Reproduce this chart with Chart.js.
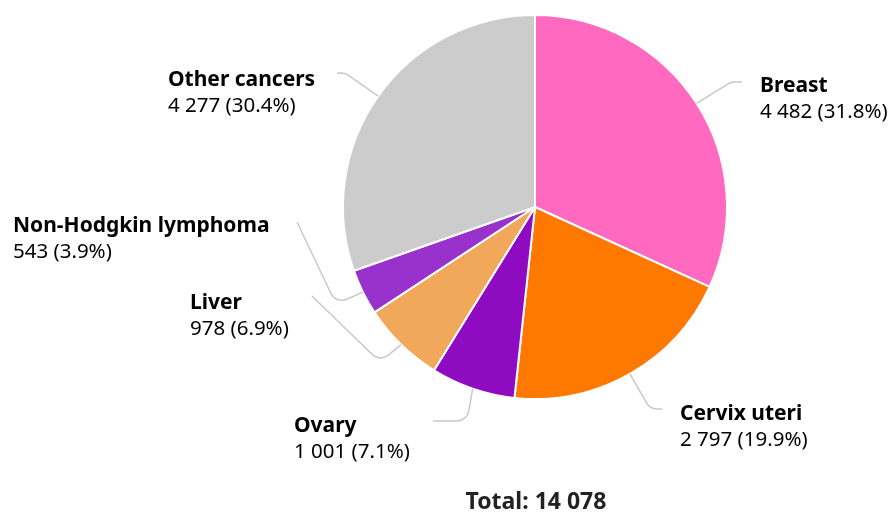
<!DOCTYPE html>
<html>
<head>
<meta charset="utf-8">
<script src="https://cdn.jsdelivr.net/npm/chart.js@4/dist/chart.umd.min.js"></script>
<style>
  html, body { margin: 0; padding: 0; background: #fff; }
  #wrap { width: 894px; height: 513px; }
</style>
</head>
<body>
<div id="wrap"><canvas id="pieChart" width="894" height="513"></canvas></div>
<script>
// data
const categories = ["Breast", "Cervix uteri", "Ovary", "Liver", "Non-Hodgkin lymphoma", "Other cancers"];
const counts = [4482, 2797, 1001, 978, 543, 4277];
const colours = ["#ff69c0", "#ff7900", "#8f0bc1", "#f1a85b", "#9932cc", "#cccccc"];

// label layout (text anchor + leader line bend/end), not data
const labelPos = [
  { x: 760, y: 92, bend: [731, 82], end: [742, 82] },
  { x: 680, y: 420, bend: [650, 409], end: [662, 409] },
  { x: 294, y: 432, bend: [467, 421], end: [433, 421] },
  { x: 190, y: 309, bend: [380, 362], end: [312, 296] },
  { x: 13, y: 232, bend: [336, 304], end: [297, 222] },
  { x: 168, y: 86, bend: [345, 73], end: [337, 73] },
];

const total = counts.reduce((a, b) => a + b, 0);

function fmt(n) {
  return String(n).replace(/\B(?=(\d{3})+(?!\d))/g, " ");
}

const FONT = "'Noto Sans', 'Open Sans', sans-serif";

// draws labels, leader lines and the total
const labelPlugin = {
  id: "pieLabels",
  afterDraw(chart) {
    const ctx = chart.ctx;
    const arcs = chart.getDatasetMeta(0).data;
    ctx.save();
    arcs.forEach((arc, i) => {
      const mid = (arc.startAngle + arc.endAngle) / 2;
      const sx = arc.x + Math.cos(mid) * arc.outerRadius;
      const sy = arc.y + Math.sin(mid) * arc.outerRadius;
      const p = labelPos[i];
      ctx.beginPath();
      ctx.strokeStyle = "#c8c8c8";
      ctx.lineWidth = 1.5;
      ctx.moveTo(sx, sy);
      ctx.arcTo(p.bend[0], p.bend[1], p.end[0], p.end[1], 12);
      ctx.lineTo(p.end[0], p.end[1]);
      ctx.stroke();

      ctx.fillStyle = "#000";
      ctx.textAlign = "left";
      ctx.textBaseline = "alphabetic";
      ctx.font = "bold 21px " + FONT;
      ctx.fillText(categories[i], p.x, p.y);
      ctx.font = "20.5px " + FONT;
      const pct = (counts[i] / total * 100).toFixed(1);
      ctx.fillText(fmt(counts[i]) + " (" + pct + "%)", p.x, p.y + 26);
    });
    ctx.font = "bold 23px " + FONT;
    ctx.textAlign = "center";
    ctx.fillStyle = "#222";
    ctx.fillText("Total: " + fmt(total), 536, 509);
    ctx.restore();
  },
};

const ctx = document.getElementById("pieChart").getContext("2d");
new Chart(ctx, {
  type: "pie",
  data: {
    labels: categories,
    datasets: [
      {
        data: counts,
        backgroundColor: colours,
        borderColor: "#ffffff",
        borderWidth: 2,
      },
    ],
  },
  options: {
    responsive: false,
    animation: false,
    layout: {
      padding: { top: 14, bottom: 113, left: 342, right: 166 },
    },
    plugins: {
      legend: { display: false },
      tooltip: { enabled: false },
    },
  },
  plugins: [labelPlugin],
});
</script>
</body>
</html>
